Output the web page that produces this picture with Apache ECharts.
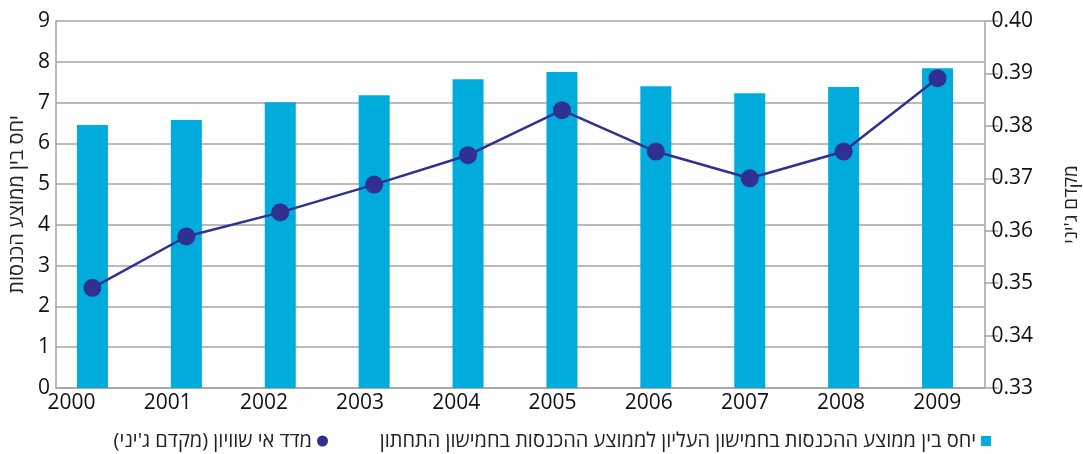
<!DOCTYPE html>
<html>
<head>
<meta charset="utf-8">
<script src="https://cdn.jsdelivr.net/npm/echarts@6/dist/echarts.min.js"></script>
<style>
html,body{margin:0;padding:0;background:#fff;}
#c{width:1083px;height:454px;}
</style>
</head>
<body>
<div id="c"></div>
<script>
const years = ['2000','2001','2002','2003','2004','2005','2006','2007','2008','2009'];
const ratio = [6.45, 6.57, 7.01, 7.18, 7.57, 7.75, 7.40, 7.23, 7.38, 7.84];
const gini = [0.3491, 0.3589, 0.3635, 0.3688, 0.3744, 0.3830, 0.3751, 0.3700, 0.3751, 0.3891];
const leftTicks = [0, 9, 1];
const rightTicks = [0.33, 0.40, 0.01];
const barName = '\u200Fיחס בין ממוצע ההכנסות בחמישון העליון לממוצע ההכנסות בחמישון התחתון\u200F';
const lineName = '\u200Fמדד אי שוויון (מקדם ג\'יני)\u200F';
const leftAxisName = '\u200Fיחס בין ממוצע הכנסות\u200F';
const rightAxisName = '\u200Fמקדם ג\'יני\u200F';

const FONT = "'Open Sans', 'Noto Sans', 'DejaVu Sans', sans-serif";
const GRAY = '#a3a3a3';
const chart = echarts.init(document.getElementById('c'), null, {renderer: 'canvas'});
chart.setOption({
  animation: false,
  textStyle: {fontFamily: FONT},
  grid: [
    {left: 45.5, right: 98.5, top: 21, bottom: 66, outerBoundsMode: 'none', containLabel: false},
    {left: 56, right: 99, top: 21, bottom: 66, outerBoundsMode: 'none', containLabel: false},
    {left: 23.4, right: 97.6, top: 21, bottom: 66, outerBoundsMode: 'none', containLabel: false}
  ],
  legend: [
    {data: [{name: barName, icon: 'rect'}], align: 'right', right: 92, top: 431, padding: 0,
     itemWidth: 10, itemHeight: 10, textStyle: {fontSize: 20, color: '#222', fontFamily: FONT}},
    {data: [{name: lineName, icon: 'circle'}], align: 'right', right: 755, top: 431, padding: 0,
     itemWidth: 11, itemHeight: 11, textStyle: {fontSize: 20, color: '#222', fontFamily: FONT}}
  ],
  xAxis: [
    {type: 'category', gridIndex: 0, data: years, show: false},
    {type: 'category', gridIndex: 1, data: years, axisLine: {show: true, lineStyle: {color: GRAY, width: 1.5}},
     axisTick: {show: false}, axisLabel: {show: false}, splitLine: {show: false}},
    {type: 'category', gridIndex: 2, data: years, axisLine: {show: false}, axisTick: {show: false},
     axisLabel: {fontSize: 21, color: '#111', margin: 5, fontFamily: FONT}}
  ],
  yAxis: [
    {type: 'value', gridIndex: 0, min: leftTicks[0], max: leftTicks[1], interval: leftTicks[2], show: false},
    {type: 'value', gridIndex: 0, position: 'right', min: rightTicks[0], max: rightTicks[1], interval: rightTicks[2],
     axisLine: {show: true, lineStyle: {color: GRAY, width: 1.5}},
     axisTick: {show: true, length: 14, lineStyle: {color: GRAY, width: 1.5}},
     axisLabel: {fontSize: 21, color: '#111', margin: 7, fontFamily: FONT, formatter: v => v.toFixed(2)},
     splitLine: {show: false},
     name: rightAxisName, nameLocation: 'middle', nameRotate: 90, nameGap: 78,
     nameTextStyle: {fontSize: 19, color: '#222', fontFamily: FONT}},
    {type: 'value', gridIndex: 1, min: leftTicks[0], max: leftTicks[1], interval: leftTicks[2],
     axisLine: {show: true, lineStyle: {color: GRAY, width: 1.5}},
     axisTick: {show: false},
     axisLabel: {fontSize: 21, color: '#111', margin: 6, fontFamily: FONT},
     splitLine: {show: true, lineStyle: {color: GRAY, width: 1.5}},
     name: leftAxisName, nameLocation: 'middle', nameRotate: 90, nameGap: 27,
     nameTextStyle: {fontSize: 20, color: '#222', fontFamily: FONT}},
    {type: 'value', gridIndex: 2, min: 0, max: 1, show: false}
  ],
  series: [
    {name: barName, type: 'bar', xAxisIndex: 0, yAxisIndex: 0, data: ratio, barWidth: 31,
     itemStyle: {color: '#00acdc'}},
    {name: lineName, type: 'line', xAxisIndex: 0, yAxisIndex: 1, data: gini,
     symbol: 'circle', symbolSize: 18, lineStyle: {color: '#2e3192', width: 2.5},
     itemStyle: {color: '#2e3192'}, z: 5}
  ]
});
</script>
</body>
</html>
